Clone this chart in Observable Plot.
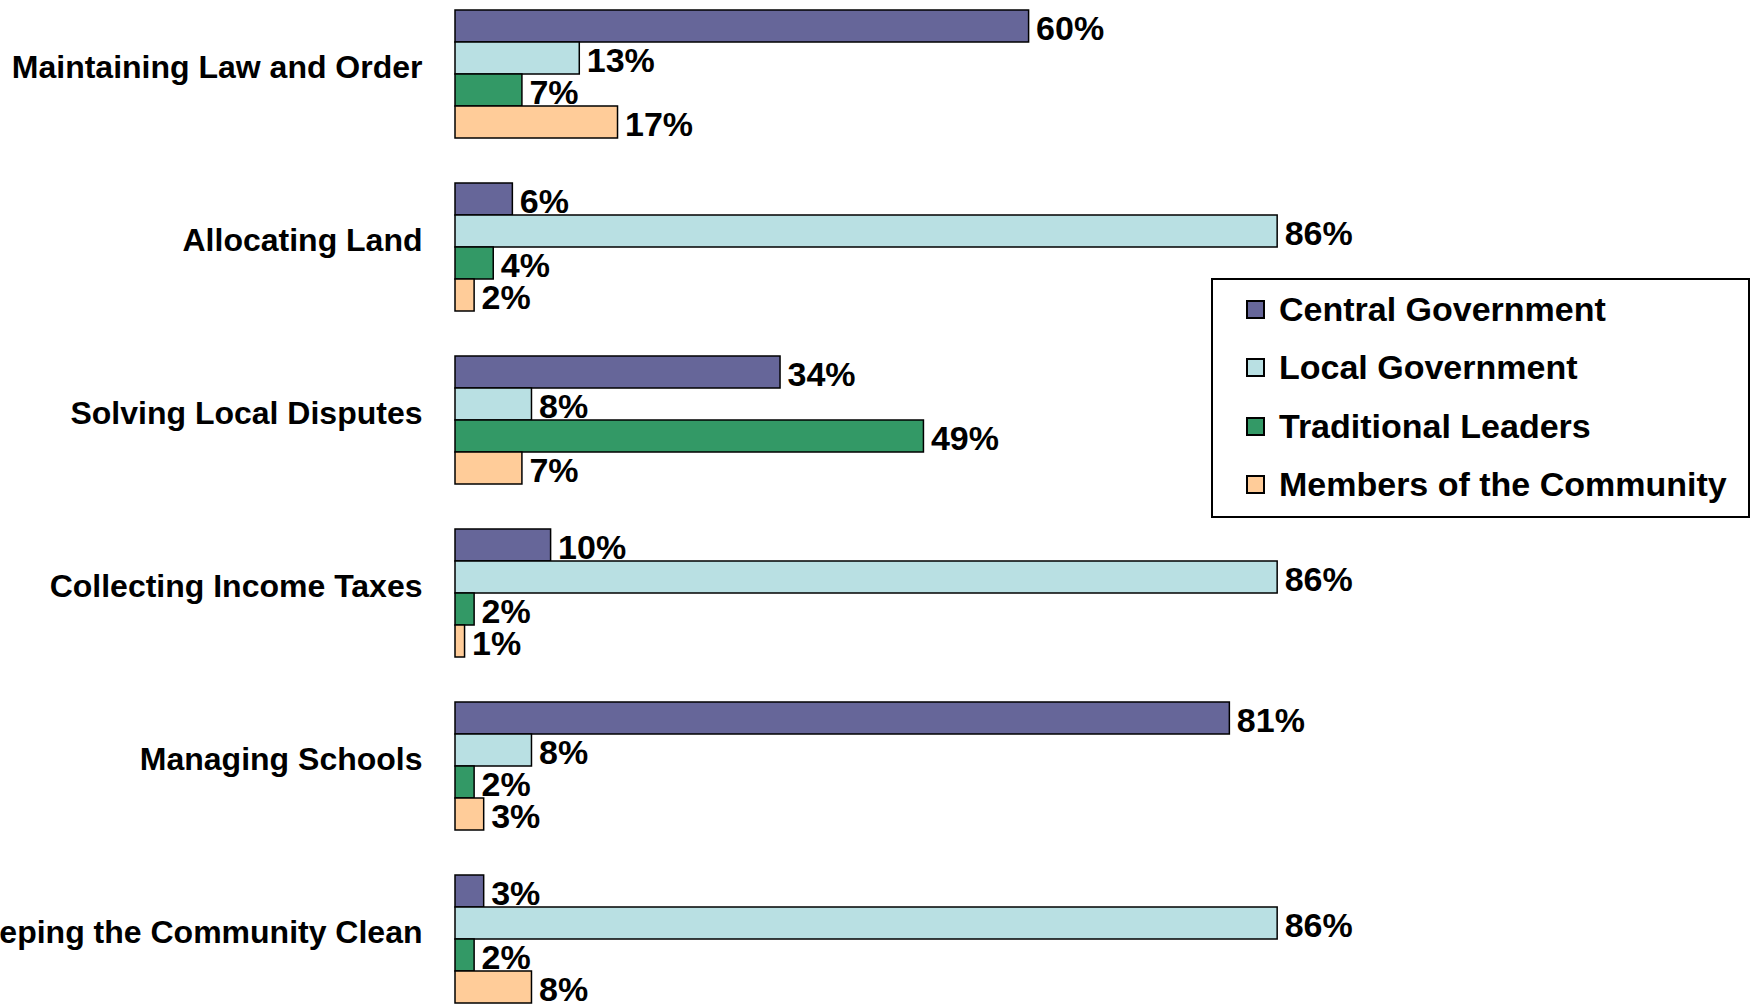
<!DOCTYPE html>
<html>
<head>
<meta charset="utf-8">
<script src="https://cdn.jsdelivr.net/npm/d3@7"></script>
<script src="https://cdn.jsdelivr.net/npm/@observablehq/plot@0.6"></script>
<style>
  html, body { margin: 0; padding: 0; background: #fff; }
  body { font-family: "Liberation Sans", Arial, Helvetica, sans-serif; }
  #wrap { position: relative; width: 1752px; height: 1005px; overflow: hidden; background: #fff; }
  #legend {
    position: absolute; left: 1211px; top: 278px; width: 539px; height: 240px;
    border: 2px solid #000; box-sizing: border-box; background: #fff;
    padding-left: 33px;
  }
  .row { height: 58.5px; display: flex; align-items: center; font-weight: bold; font-size: 34px; color: #000; white-space: nowrap; }
  .sw { width: 15px; height: 15px; border: 2px solid #000; margin-right: 14px; flex: none; }
</style>
</head>
<body>
<div id="wrap"><div id="chart"></div><div id="legend"></div></div>
<script>
const categories = [
  "Maintaining Law and Order",
  "Allocating Land",
  "Solving Local Disputes",
  "Collecting Income Taxes",
  "Managing Schools",
  "Keeping the Community Clean"
];
const series = ["Central Government", "Local Government", "Traditional Leaders", "Members of the Community"];
const centralGovernment = [60, 6, 34, 10, 81, 3];
const localGovernment   = [13, 86, 8, 86, 8, 86];
const traditionalLeaders = [7, 4, 49, 2, 2, 2];
const communityMembers  = [17, 2, 7, 1, 3, 8];
const colors = ["#666699", "#B9E0E3", "#339966", "#FFCC99"];

const seriesValues = [centralGovernment, localGovernment, traditionalLeaders, communityMembers];
const rows = [];
categories.forEach((c, i) => {
  series.forEach((s, j) => rows.push({category: c, series: s, value: seriesValues[j][i]}));
});

const chart = Plot.plot({
  width: 1752,
  height: 1005,
  marginLeft: 455,
  marginRight: 341,
  marginTop: 6,
  marginBottom: 0,
  style: {fontFamily: "'Liberation Sans', Arial, sans-serif", fontSize: "32px", fontWeight: "bold", background: "transparent", overflow: "visible"},
  x: {domain: [0, 100], axis: null},
  fy: {domain: categories, paddingInner: 0.243, paddingOuter: 0, label: null},
  y: {domain: series, padding: 0, axis: null},
  color: {domain: series, range: colors},
  marks: [
    Plot.barX(rows, {x: "value", y: "series", fy: "category", fill: "series", stroke: "#000", strokeWidth: 1.5}),
    Plot.text(rows, {x: "value", y: "series", fy: "category", text: d => d.value + "%", textAnchor: "start", dx: 7, dy: 3, fontSize: 34, fontWeight: "bold", fill: "#000"}),
    Plot.axisFy({anchor: "left", tickSize: 0, tickPadding: 33, dy: -6, fontSize: 32, fontWeight: "bold", label: null, fill: "#000"})
  ]
});
document.getElementById("chart").appendChild(chart);

const legend = document.getElementById("legend");
series.forEach((s, j) => {
  const row = document.createElement("div");
  row.className = "row";
  const sw = document.createElement("span");
  sw.className = "sw";
  sw.style.background = colors[j];
  row.appendChild(sw);
  row.appendChild(document.createTextNode(s));
  legend.appendChild(row);
});
</script>
</body>
</html>
